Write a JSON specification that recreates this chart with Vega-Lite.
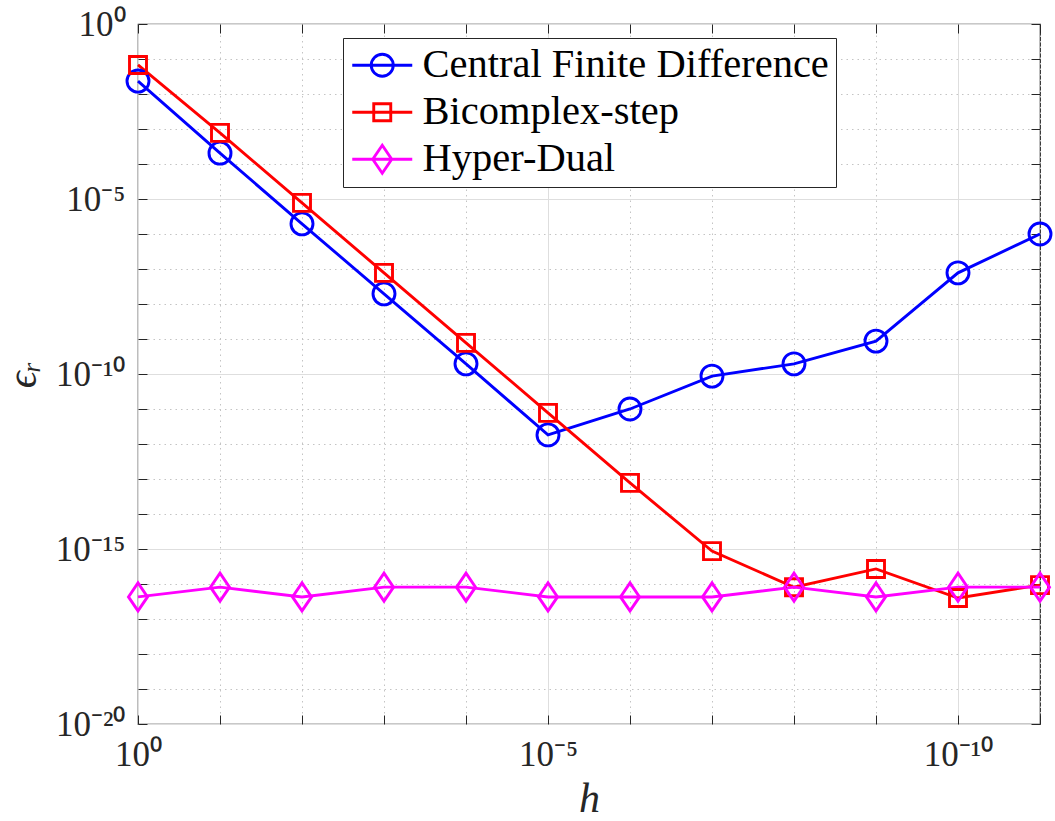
{
  "$schema": "https://vega.github.io/schema/vega-lite/v6.json",
  "width": 902,
  "height": 700,
  "autosize": "none",
  "padding": {"left": 138, "top": 24, "right": 15, "bottom": 97},
  "background": "white",
  "config": {
    "view": {"stroke": "#262626", "strokeWidth": 1.2},
    "axis": {
      "labelFont": "Liberation Serif",
      "labelFontSize": 35,
      "labelColor": "#262626",
      "titleFont": "Liberation Serif",
      "titleFontWeight": "normal",
      "titleColor": "#262626",
      "tickColor": "#262626",
      "tickWidth": 1,
      "domain": false,
      "labelOverlap": false,
      "labelFlush": false,
      "labelBound": false
    }
  },
  "data": {
    "values": [
      {"series": "Central Finite Difference", "h": 1, "err": 2.34e-2},
      {"series": "Central Finite Difference", "h": 1e-1, "err": 2.04e-4},
      {"series": "Central Finite Difference", "h": 1e-2, "err": 1.95e-6},
      {"series": "Central Finite Difference", "h": 1e-3, "err": 1.95e-8},
      {"series": "Central Finite Difference", "h": 1e-4, "err": 1.95e-10},
      {"series": "Central Finite Difference", "h": 1e-5, "err": 1.82e-12},
      {"series": "Central Finite Difference", "h": 1e-6, "err": 1.0e-11},
      {"series": "Central Finite Difference", "h": 1e-7, "err": 8.7e-11},
      {"series": "Central Finite Difference", "h": 1e-8, "err": 1.95e-10},
      {"series": "Central Finite Difference", "h": 1e-9, "err": 8.7e-10},
      {"series": "Central Finite Difference", "h": 1e-10, "err": 7.76e-8},
      {"series": "Central Finite Difference", "h": 1e-11, "err": 1.0e-6},
      {"series": "Bicomplex-step", "h": 1, "err": 6.76e-2},
      {"series": "Bicomplex-step", "h": 1e-1, "err": 7.76e-4},
      {"series": "Bicomplex-step", "h": 1e-2, "err": 7.76e-6},
      {"series": "Bicomplex-step", "h": 1e-3, "err": 7.76e-8},
      {"series": "Bicomplex-step", "h": 1e-4, "err": 7.76e-10},
      {"series": "Bicomplex-step", "h": 1e-5, "err": 7.76e-12},
      {"series": "Bicomplex-step", "h": 1e-6, "err": 7.76e-14},
      {"series": "Bicomplex-step", "h": 1e-7, "err": 8.7e-16},
      {"series": "Bicomplex-step", "h": 1e-8, "err": 8.1e-17},
      {"series": "Bicomplex-step", "h": 1e-9, "err": 2.69e-16},
      {"series": "Bicomplex-step", "h": 1e-10, "err": 3.98e-17},
      {"series": "Bicomplex-step", "h": 1e-11, "err": 9.3e-17},
      {"series": "Hyper-Dual", "h": 1, "err": 4.27e-17},
      {"series": "Hyper-Dual", "h": 1e-1, "err": 8.13e-17},
      {"series": "Hyper-Dual", "h": 1e-2, "err": 4.27e-17},
      {"series": "Hyper-Dual", "h": 1e-3, "err": 8.13e-17},
      {"series": "Hyper-Dual", "h": 1e-4, "err": 8.13e-17},
      {"series": "Hyper-Dual", "h": 1e-5, "err": 4.27e-17},
      {"series": "Hyper-Dual", "h": 1e-6, "err": 4.27e-17},
      {"series": "Hyper-Dual", "h": 1e-7, "err": 4.27e-17},
      {"series": "Hyper-Dual", "h": 1e-8, "err": 8.13e-17},
      {"series": "Hyper-Dual", "h": 1e-9, "err": 4.27e-17},
      {"series": "Hyper-Dual", "h": 1e-10, "err": 8.13e-17},
      {"series": "Hyper-Dual", "h": 1e-11, "err": 8.13e-17}
    ]
  },
  "layer": [
    {
      "layer": [
        {
          "mark": {"type": "line", "strokeWidth": 2.9},
          "encoding": {
            "x": {
              "field": "h", "type": "quantitative",
              "scale": {"type": "log", "domain": [1e-11, 1], "reverse": true, "nice": false},
              "axis": {
                "orient": "bottom",
                "values": [1, 0.1, 0.01, 0.001, 0.0001, 1e-5, 1e-6, 1e-7, 1e-8, 1e-9, 1e-10, 1e-11],
                "title": "h",
                "titleFontSize": 42,
                "titleFontStyle": "italic",
                "titleY": 87,
                "titleBaseline": "alphabetic",
                "tickSize": -9,
                "labelPadding": 22,
                "labelExpr": "round(log(datum.value)/LN10) == 0 ? '10⁰' : round(log(datum.value)/LN10) == -5 ? '10⁻⁵' : round(log(datum.value)/LN10) == -10 ? '10⁻¹⁰' : ''",
                "grid": true,
                "gridColor": {"condition": {"test": "abs(round(log(datum.value)/LN10)) % 5 == 0", "value": "#dedede"}, "value": "#c4c4c4"},
                "gridDash": {"condition": {"test": "abs(round(log(datum.value)/LN10)) % 5 == 0", "value": []}, "value": [1.5, 4]}
              }
            },
            "y": {
              "field": "err", "type": "quantitative",
              "scale": {"type": "log", "domain": [1e-20, 1], "nice": false},
              "axis": {
                "orient": "left",
                "values": [1, 1e-1, 1e-2, 1e-3, 1e-4, 1e-5, 1e-6, 1e-7, 1e-8, 1e-9, 1e-10, 1e-11, 1e-12, 1e-13, 1e-14, 1e-15, 1e-16, 1e-17, 1e-18, 1e-19, 1e-20],
                "title": "ϵᵣ",
                "titleFontSize": 42,
                "titleFontStyle": "italic",
                "titleX": -116,
                "titleY": 350,
                "titleAngle": -90,
                "titleBaseline": "middle",
                "tickSize": -9,
                "labelPadding": 22,
                "labelExpr": "round(log(datum.value)/LN10) == 0 ? '10⁰' : round(log(datum.value)/LN10) == -5 ? '10⁻⁵' : round(log(datum.value)/LN10) == -10 ? '10⁻¹⁰' : round(log(datum.value)/LN10) == -15 ? '10⁻¹⁵' : round(log(datum.value)/LN10) == -20 ? '10⁻²⁰' : ''",
                "grid": true,
                "gridColor": {"condition": {"test": "abs(round(log(datum.value)/LN10)) % 5 == 0", "value": "#dedede"}, "value": "#c4c4c4"},
                "gridDash": {"condition": {"test": "abs(round(log(datum.value)/LN10)) % 5 == 0", "value": []}, "value": [1.5, 4]}
              }
            },
            "color": {
              "field": "series", "type": "nominal",
              "scale": {"domain": ["Central Finite Difference", "Bicomplex-step", "Hyper-Dual"], "range": ["#0000ff", "#ff0000", "#ff00ff"]},
              "legend": null
            }
          }
        },
        {
          "mark": {"type": "point", "filled": false, "strokeWidth": 2.9, "size": 784, "opacity": 1},
          "encoding": {
            "x": {"field": "h", "type": "quantitative"},
            "y": {"field": "err", "type": "quantitative"},
            "color": {
              "field": "series", "type": "nominal",
              "scale": {"domain": ["Central Finite Difference", "Bicomplex-step", "Hyper-Dual"], "range": ["#0000ff", "#ff0000", "#ff00ff"]},
              "legend": null
            },
            "shape": {
              "field": "series", "type": "nominal",
              "scale": {"domain": ["Central Finite Difference", "Bicomplex-step", "Hyper-Dual"], "range": ["M0.786,0A0.786,0.786 0 1,1 -0.786,0A0.786,0.786 0 1,1 0.786,0Z", "M-0.607,-0.607L0.607,-0.607L0.607,0.607L-0.607,0.607Z", "M0,-1L0.68,0L0,1L-0.68,0Z"]},
              "legend": null
            }
          }
        },
        {
          "transform": [{"filter": "false"}],
          "mark": {"type": "point", "filled": false, "strokeWidth": 2.9, "size": 900, "opacity": 1},
          "encoding": {
            "x": {"field": "h", "type": "quantitative"},
            "y": {"field": "err", "type": "quantitative"},
            "color": {
              "field": "series", "type": "nominal",
              "scale": {"domain": ["Central Finite Difference", "Bicomplex-step", "Hyper-Dual"], "range": ["#0000ff", "#ff0000", "#ff00ff"]},
              "legend": {
                "orient": "none",
                "legendX": 205,
                "legendY": 14,
                "title": null,
                "fillColor": "white",
                "strokeColor": "#262626",
                "padding": 7,
                "labelFont": "Liberation Serif",
                "labelFontSize": 40.5,
                "labelColor": "black",
                "labelLimit": 0,
                "symbolSize": 900,
                "symbolStrokeWidth": 2.9,
                "symbolOpacity": 1,
                "labelOffset": 32,
                "rowPadding": 6
              }
            },
            "shape": {
              "field": "series", "type": "nominal",
              "scale": {"domain": ["Central Finite Difference", "Bicomplex-step", "Hyper-Dual"], "range": ["M-1.2,0L2.8,0M1.533,0A0.733,0.733 0 1,1 0.067,0A0.733,0.733 0 1,1 1.533,0", "M-1.2,0L2.8,0M0.233,-0.567L1.367,-0.567L1.367,0.567L0.233,0.567Z", "M-1.2,0L2.8,0M0.8,-0.933L1.433,0L0.8,0.933L0.167,0Z"]},
              "legend": {
                "orient": "none",
                "legendX": 205,
                "legendY": 14,
                "title": null,
                "fillColor": "white",
                "strokeColor": "#262626",
                "padding": 7,
                "labelFont": "Liberation Serif",
                "labelFontSize": 40.5,
                "labelColor": "black",
                "labelLimit": 0,
                "symbolSize": 900,
                "symbolStrokeWidth": 2.9,
                "symbolOpacity": 1,
                "labelOffset": 32,
                "rowPadding": 6
              }
            }
          }
        }
      ],
      "resolve": {"scale": {"shape": "independent", "color": "independent"}}
    },
    {
      "mark": {"type": "point", "opacity": 0},
      "encoding": {
        "x": {
          "field": "h", "type": "quantitative",
          "axis": {"orient": "top", "values": [1, 0.1, 0.01, 0.001, 0.0001, 1e-5, 1e-6, 1e-7, 1e-8, 1e-9, 1e-10, 1e-11], "labels": false, "title": null, "grid": false, "tickSize": -9}
        },
        "y": {
          "field": "err", "type": "quantitative",
          "axis": {"orient": "right", "values": [1, 1e-1, 1e-2, 1e-3, 1e-4, 1e-5, 1e-6, 1e-7, 1e-8, 1e-9, 1e-10, 1e-11, 1e-12, 1e-13, 1e-14, 1e-15, 1e-16, 1e-17, 1e-18, 1e-19, 1e-20], "labels": false, "title": null, "grid": false, "tickSize": -9}
        }
      }
    }
  ],
  "resolve": {"axis": {"x": "independent", "y": "independent"}}
}
